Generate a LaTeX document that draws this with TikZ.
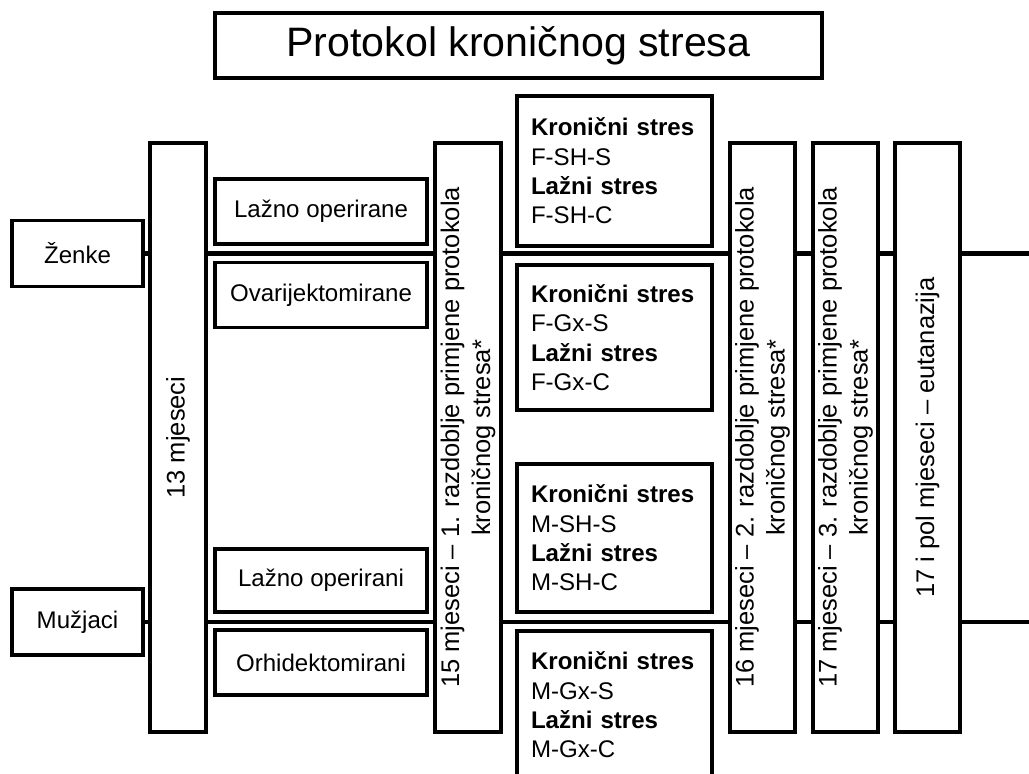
\documentclass[tikz,border=0pt]{standalone}
\usepackage{fontspec}
\setmainfont{Liberation Sans}
\usetikzlibrary{positioning}
\newcommand{\boxfont}{\fontsize{13.7}{16.7}\selectfont}
\newcommand{\barfont}{\fontsize{14.5}{17.6}\selectfont}
\begin{document}
\begin{tikzpicture}[
  frame/.style={draw,line width=1.9pt,fill=white,inner sep=0pt},
  titlebox/.style={frame,minimum width=12.14cm,minimum height=1.3cm,
                   font=\fontsize{23.4}{28}\selectfont},
  sexbox/.style={frame,minimum width=2.62cm,minimum height=1.32cm,
                 font=\boxfont},
  groupbox/.style={frame,minimum width=4.24cm,minimum height=1.3cm,
                   font=\boxfont},
  stressbox/.style={frame,text width=3.34cm,inner xsep=0.28cm,align=left,
                    minimum height=2.96cm,font=\boxfont},
  period/.style={frame,rotate=90,minimum width=11.78cm,minimum height=1.3cm,
                 align=center,font=\barfont},
  timeline/.style={line width=2.8pt},
]
\useasboundingbox (0,0) rectangle (20.58,-15.46);

%% ── Title ────────────────────────────────────────────────────────────────────
\node[titlebox] (title) at (10.37,-0.91) {Protokol kroničnog stresa};

%% ── Sexes and time lines ─────────────────────────────────────────────────────
\node[sexbox] (zenke)   at (1.55,-5.07)  {Ženke};
\node[sexbox] (muzjaci) at (1.55,-12.44) {Mužjaci};
\coordinate (zenkeEnd)   at (20.58,-5.07);
\coordinate (muzjaciEnd) at (20.58,-12.44);
\draw[timeline] (zenke.east) -- (zenkeEnd);
\draw[timeline] (muzjaci.east) -- (muzjaciEnd);

%% ── Time periods ─────────────────────────────────────────────────────────────
\node[period,minimum height=1.12cm] (m13) at (3.56,-8.75) {13 mjeseci};
\node[period,minimum height=1.32cm] (m15) at (9.36,-8.75)
  {15 mjeseci – 1. razdoblje primjene protokola\\kroničnog stresa*};
\node[period] (m16) at (15.25,-8.75)
  {16 mjeseci – 2. razdoblje primjene protokola\\kroničnog stresa*};
\node[period] (m17) at (16.91,-8.75)
  {17 mjeseci – 3. razdoblje primjene protokola\\kroničnog stresa*};
\node[period] (m17p) at (18.55,-8.75) {17 i pol mjeseci – eutanazija};

%% ── Surgical groups ──────────────────────────────────────────────────────────
\node[groupbox] (shamF) at (6.42,-4.23)  {Lažno operirane};
\node[groupbox] (ovx)   at (6.42,-5.90)  {Ovarijektomirane};
\node[groupbox,minimum height=1.26cm] (shamM) at (6.42,-11.61)
  {Lažno operirani};
\node[groupbox] (orx)   at (6.42,-13.25) {Orhidektomirani};

%% ── Stress groups ────────────────────────────────────────────────────────────
\node[stressbox,minimum height=3.0cm] (fsh) at (12.29,-3.42)
  {\textbf{Kronični stres}\\F-SH-S\\\textbf{Lažni stres}\\F-SH-C};
\node[stressbox,minimum height=2.9cm] (fgx) at (12.29,-6.75)
  {\textbf{Kronični stres}\\F-Gx-S\\\textbf{Lažni stres}\\F-Gx-C};
\node[stressbox] (msh) at (12.29,-10.76)
  {\textbf{Kronični stres}\\M-SH-S\\\textbf{Lažni stres}\\M-SH-C};
\node[stressbox] (mgx) at (12.29,-14.10)
  {\textbf{Kronični stres}\\M-Gx-S\\\textbf{Lažni stres}\\M-Gx-C};

\end{tikzpicture}
\end{document}
